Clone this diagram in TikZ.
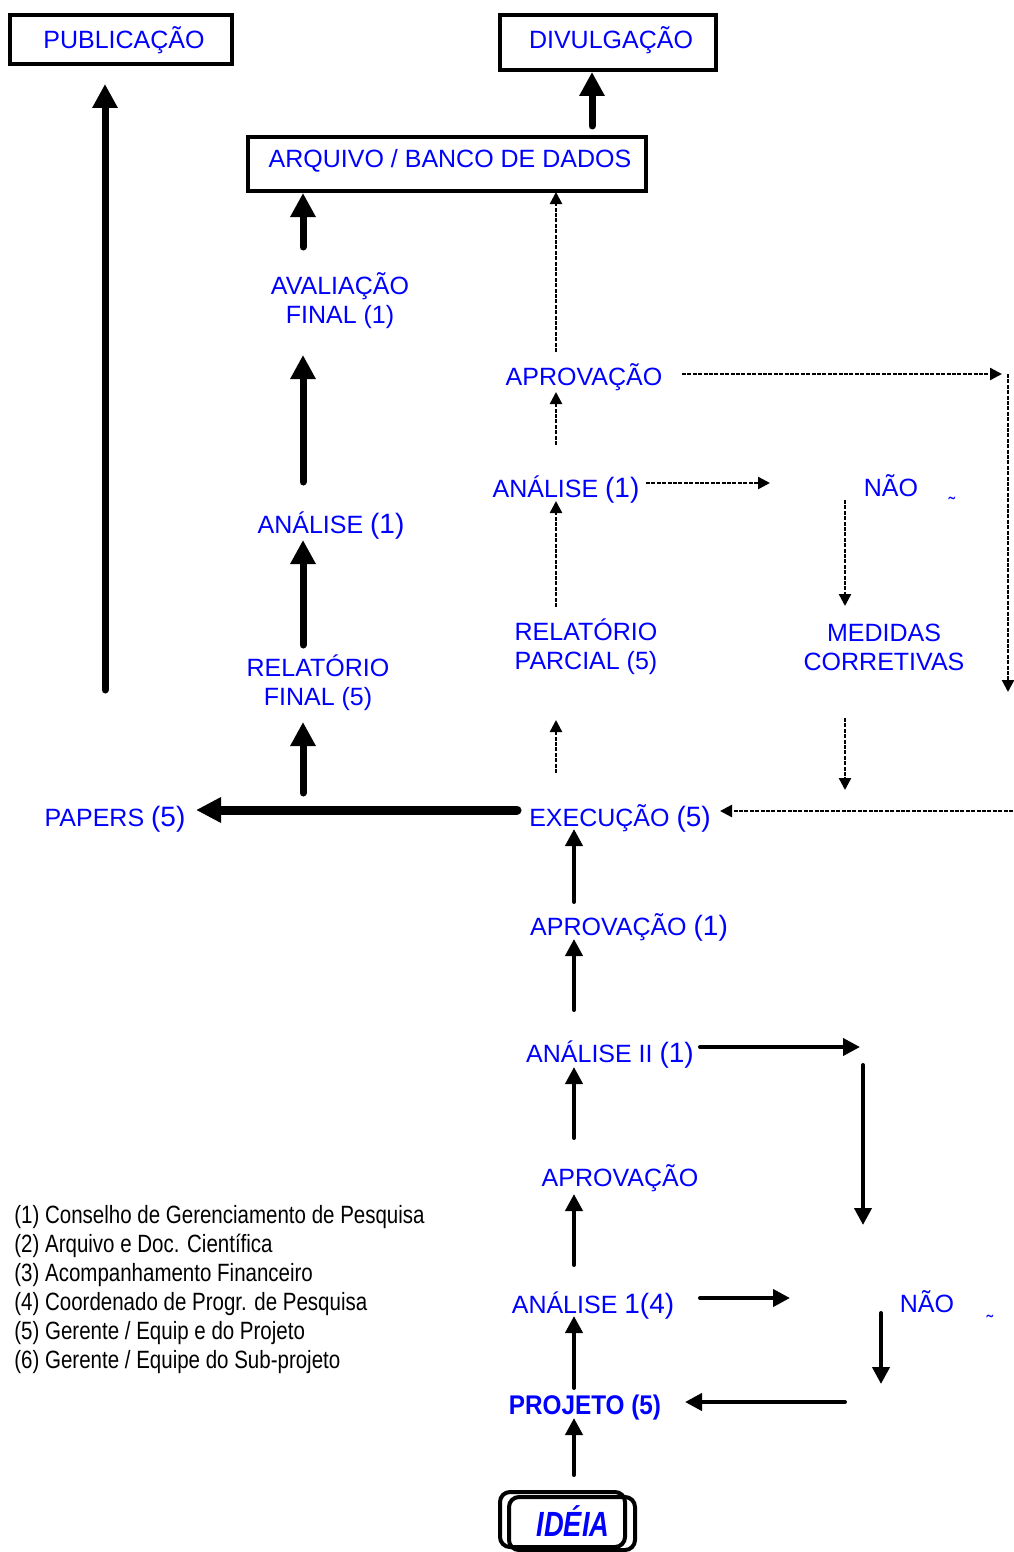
\documentclass[tikz,border=0pt]{standalone}
\usepackage{fontspec}
\setmainfont{Liberation Sans}
\newfontfamily\narrowfont[FakeStretch=0.82]{Liberation Sans}
\newfontfamily\projfont[FakeStretch=0.9]{Liberation Sans}
\newfontfamily\ideafont[FakeStretch=0.78]{Liberation Sans}
\usetikzlibrary{arrows.meta}
\definecolor{tblue}{RGB}{0,0,255}
\newcommand{\bigp}[1]{{\fontsize{14pt}{16pt}\selectfont #1}}
\tikzset{
  lbl/.style={text=tblue, inner sep=0pt, align=center, yshift=-1pt,
    font=\fontsize{12.5pt}{14.5pt}\selectfont},
  boxs/.style={draw=black, line width=2pt, inner sep=0pt},
  ideabox/.style={draw=black, line width=2pt, inner sep=0pt, rounded corners=5pt},
  thickarr/.style={line width=3.5pt, line cap=round,
    -{Triangle[length=12pt,width=12pt]}},
  paperarr/.style={line width=4.5pt, line cap=round,
    -{Triangle[length=12.5pt,width=12pt]}},
  medarr/.style={line width=2pt, line cap=round,
    -{Triangle[length=8.5pt,width=8.5pt]}},
  dasharr/.style={line width=1.2pt, dash pattern=on 2pt off 0.7pt,
    -{Triangle[length=6pt,width=6pt]}},
  legend/.style={inner sep=0pt, align=left, anchor=west,
    font=\narrowfont\fontsize{12.5pt}{14.5pt}\selectfont},
  tilde/.style={text=tblue, inner sep=0pt, anchor=base,
    font=\fontsize{10pt}{11pt}\selectfont},
}
\begin{document}
\begin{tikzpicture}[x=0.5pt,y=-0.5pt]
\useasboundingbox (0,0) rectangle (1013,1552);

% ---- boxes
\node[boxs, minimum width=111pt, minimum height=24.5pt] (pubbox) at (121,39.5) {};
\node[lbl] (pub) at (124,38) {PUBLICAÇÃO};
\node[boxs, minimum width=108pt, minimum height=27.5pt] (divbox) at (608,42.5) {};
\node[lbl] (div) at (611,38) {DIVULGAÇÃO};
\node[boxs, minimum width=199pt, minimum height=27pt] (arqbox) at (447,164) {};
\node[lbl] (arq) at (450,159) {ARQUIVO / BANCO DE DADOS};

\node[ideabox, minimum width=62.5pt, minimum height=27.5pt] (ideaA) at (562.5,1519.5) {};
\node[ideabox, minimum width=63pt, minimum height=26.5pt] (ideaB) at (572,1523.5) {};
\node[text=tblue, inner sep=0pt, font=\ideafont\fontsize{17.5pt}{20pt}\selectfont\bfseries\itshape] (idea) at (573,1521) {IDÉIA};

% ---- left column
\node[lbl] (aval) at (340,298.5) {AVALIAÇÃO\\FINAL (1)};
\node[lbl] (anL) at (331,524) {ANÁLISE \bigp{(1)}};
\node[lbl] (relF) at (318,681) {RELATÓRIO\\FINAL (5)};
\node[lbl] (papers) at (115,817) {PAPERS \bigp{(5)}};
\node[lbl] (exec) at (620,816) {EXECUÇÃO \bigp{(5)}};

% ---- middle / right upper
\node[lbl] (aprT) at (584,375) {APROVAÇÃO};
\node[lbl] (anM) at (566,488) {ANÁLISE \bigp{(1)}};
\node[lbl] (naoT) at (891,484) {NÃO};
\node[tilde] (tilT) at (952,511) {˜};
\node[lbl] (med) at (884,645) {MEDIDAS\\CORRETIVAS};
\node[lbl] (relP) at (586,645) {RELATÓRIO\\PARCIAL (5)};

% ---- lower
\node[lbl] (aprB1) at (629,925) {APROVAÇÃO \bigp{(1)}};
\node[lbl] (an2) at (610,1053) {ANÁLISE II \bigp{(1)}};
\node[lbl] (aprB2) at (620,1176) {APROVAÇÃO};
\node[lbl] (an14) at (593,1304) {ANÁLISE \bigp{1(4)}};
\node[lbl] (naoB) at (927,1300) {NÃO};
\node[tilde] (tilB) at (990,1329) {˜};
\node[text=tblue, inner sep=0pt, yshift=-1pt, font=\projfont\fontsize{13.5pt}{15pt}\selectfont\bfseries] (proj) at (585,1406) {PROJETO (5)};

% ---- legend
\node[legend] (leg) at (14,1290) {(1) Conselho de Gerenciamento de Pesquisa\\
(2) Arquivo e Doc. Científica\\
(3) Acompanhamento Financeiro\\
(4) Coordenado de Progr. de Pesquisa\\
(5) Gerente / Equip e do Projeto\\
(6) Gerente / Equipe do Sub-projeto};

% ---- connector end points
\coordinate (pA) at (105,690);   \coordinate (pB) at (105,84);
\coordinate (dA) at (592,126);   \coordinate (dB) at (592,72);
\coordinate (vA) at (303,247);   \coordinate (vB) at (303,193);
\coordinate (lA) at (303,482);   \coordinate (lB) at (303,355);
\coordinate (rA) at (303,645);   \coordinate (rB) at (303,540);
\coordinate (eA) at (303,793);   \coordinate (eB) at (303,722);
\coordinate (xA) at (517,810);   \coordinate (xB) at (196,810);

\coordinate (m1A) at (574,902);  \coordinate (m1B) at (574,829);
\coordinate (m2A) at (574,1010); \coordinate (m2B) at (574,939);
\coordinate (m3A) at (574,1138); \coordinate (m3B) at (574,1067);
\coordinate (m4A) at (700,1047); \coordinate (m4B) at (860,1047);
\coordinate (m5A) at (863,1065); \coordinate (m5B) at (863,1225);
\coordinate (m6A) at (574,1265); \coordinate (m6B) at (574,1194);
\coordinate (m7A) at (700,1298); \coordinate (m7B) at (790,1298);
\coordinate (m8A) at (881,1313); \coordinate (m8B) at (881,1384);
\coordinate (m9A) at (845,1402); \coordinate (m9B) at (685,1402);
\coordinate (m10A) at (574,1388); \coordinate (m10B) at (574,1316);
\coordinate (m11A) at (574,1475); \coordinate (m11B) at (574,1418);

\coordinate (d1A) at (556,352);  \coordinate (d1B) at (556,192);
\coordinate (d2A) at (556,445);  \coordinate (d2B) at (556,392);
\coordinate (d3A) at (646,483);  \coordinate (d3B) at (770,483);
\coordinate (d4A) at (845,500);  \coordinate (d4B) at (845,606);
\coordinate (d5A) at (845,718);  \coordinate (d5B) at (845,790);
\coordinate (d6A) at (682,374);  \coordinate (d6B) at (1002,374);
\coordinate (d7A) at (1008,374); \coordinate (d7B) at (1008,692);
\coordinate (d8A) at (1013,811); \coordinate (d8B) at (720,811);
\coordinate (d9A) at (556,607);  \coordinate (d9B) at (556,501);
\coordinate (d10A) at (556,773); \coordinate (d10B) at (556,720);

% ---- thick connectors
\draw[thickarr] (pA) -- (pB);
\draw[thickarr] (dA) -- (dB);
\draw[thickarr] (vA) -- (vB);
\draw[thickarr] (lA) -- (lB);
\draw[thickarr] (rA) -- (rB);
\draw[thickarr] (eA) -- (eB);
\draw[paperarr] (xA) -- (xB);

% ---- medium connectors
\foreach \i in {1,...,11} {\draw[medarr] (m\i A) -- (m\i B);}

% ---- dashed connectors
\foreach \i in {1,...,10} {\draw[dasharr] (d\i A) -- (d\i B);}
\end{tikzpicture}
\end{document}
